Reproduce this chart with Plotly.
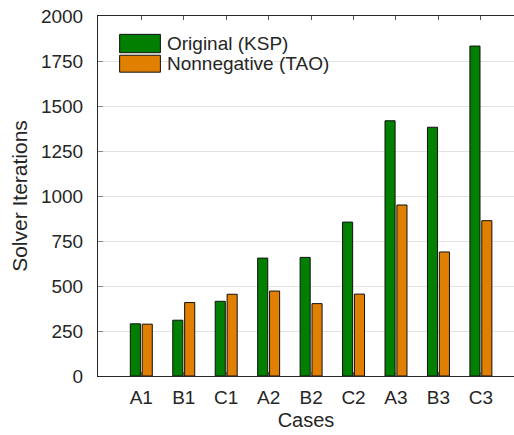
import plotly.graph_objects as go

cases = ["A1", "B1", "C1", "A2", "B2", "C2", "A3", "B3", "C3"]
original_ksp = [290, 310, 415, 655, 659, 855, 1418, 1382, 1833]
nonneg_tao = [288, 408, 454, 472, 402, 455, 950, 689, 863]
series_names = ["Original (KSP)", "Nonnegative (TAO)"]
series_colors = ["#007f00", "#e07f00"]
y_ticks = [0, 250, 500, 750, 1000, 1250, 1500, 1750, 2000]

FONT = "Liberation Sans, Arial, Helvetica, sans-serif"
TXT = "#262626"

fig = go.Figure()
for name, vals, col in zip(series_names, [original_ksp, nonneg_tao], series_colors):
    fig.add_trace(go.Bar(
        x=list(range(len(cases))), y=vals, name=name,
        marker=dict(color=col, line=dict(color="#111111", width=1)),
        showlegend=False,
    ))

# legend drawn as swatches + text
legend_rows = [(0.949, 0.898), (0.891, 0.844)]
for (y1, y0), name, col in zip(legend_rows, series_names, series_colors):
    fig.add_shape(type="rect", xref="paper", yref="paper",
                  x0=0.052, x1=0.150, y0=y0, y1=y1,
                  fillcolor=col, line=dict(color="#111111", width=1))
    fig.add_annotation(xref="paper", yref="paper", x=0.160, y=(y0 + y1) / 2,
                       text=name, showarrow=False, xanchor="left", yanchor="middle",
                       font=dict(family=FONT, size=19, color=TXT))

fig.update_layout(
    width=514, height=435,
    margin=dict(l=98, r=0, t=16, b=59),
    plot_bgcolor="white", paper_bgcolor="white",
    barmode="group", bargap=0.44, bargroupgap=0.15,
    font=dict(family=FONT, size=19, color=TXT),
)
fig.update_xaxes(
    range=[-1.02, 8.78],
    tickmode="array", tickvals=list(range(len(cases))), ticktext=cases,
    ticks="inside", ticklen=4, tickcolor="#555555", tickwidth=1,
    showline=True, linecolor=TXT, linewidth=1, mirror="ticks",
    showgrid=False, zeroline=False,
    title=dict(text="Cases", font=dict(size=20), standoff=6),
    tickfont=dict(size=19),
    ticklabelstandoff=4,
)
fig.update_yaxes(
    range=[0, 2000],
    tickmode="array", tickvals=y_ticks,
    ticks="inside", ticklen=5, tickcolor="#888888", tickwidth=1,
    showline=True, linecolor=TXT, linewidth=1, mirror=False,
    showgrid=True, gridcolor="#e3e3e3", gridwidth=1, zeroline=False,
    title=dict(text="Solver Iterations", font=dict(size=21), standoff=7),
    tickfont=dict(size=19),
    ticklabelstandoff=10,
)

fig.write_html("out.html")
